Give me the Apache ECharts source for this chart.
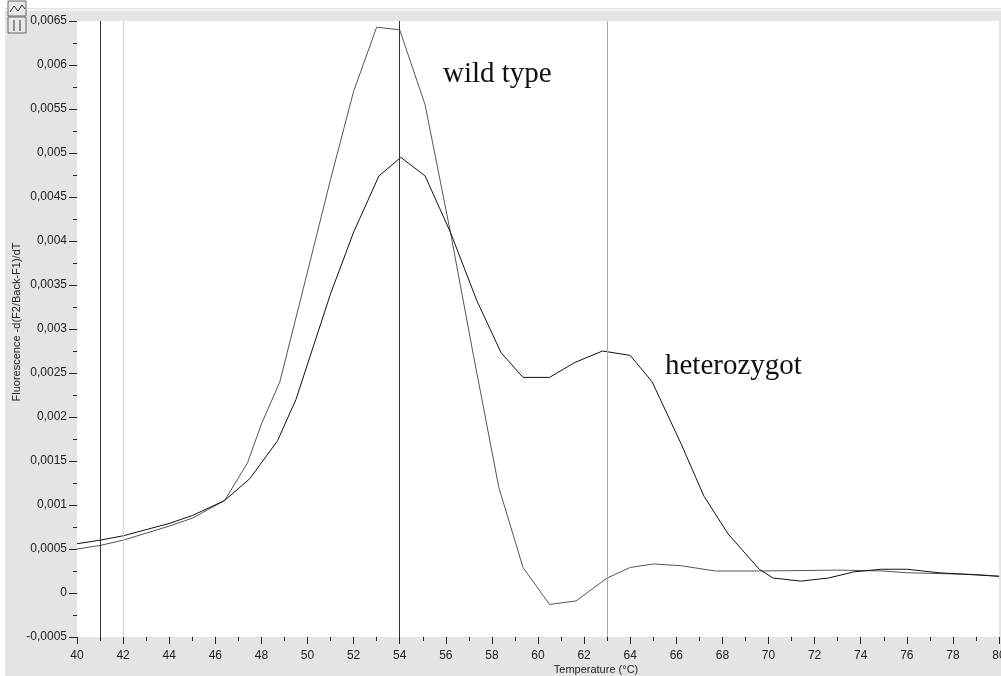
<!DOCTYPE html>
<html><head><meta charset="utf-8">
<script src="https://cdn.jsdelivr.net/npm/echarts@6/dist/echarts.min.js"></script>
<style>html,body{margin:0;padding:0;background:#fff}#c{width:1001px;height:676px}</style>
</head><body><div id="c"></div>
<script>
// Temperature (°C) / -d(F2/Back-F1)/dT
var wildTemps = [40, 41, 42, 43, 44, 45, 46.4, 47.4, 48.0, 48.8, 50, 51, 52, 53, 54, 55.1, 56.2, 57.2, 58.3, 59.35, 60.5, 61.65, 63, 64, 65, 66.2, 67.7, 69.6, 73, 75, 76, 79, 80];
var wildValues = [0.0005, 0.00054, 0.0006, 0.00068, 0.00076, 0.00085, 0.00105, 0.00148, 0.00192, 0.0024, 0.00365, 0.0047, 0.0057, 0.00643, 0.0064, 0.00555, 0.0041, 0.0027, 0.0012, 0.00029, -0.00013, -0.00009, 0.00017, 0.00029, 0.00033, 0.00031, 0.00025, 0.00025, 0.00026, 0.00025, 0.00023, 0.00021, 0.00019];
var hetTemps = [40, 41, 42, 43, 44, 45, 46.4, 47.5, 48.7, 49.5, 51, 52, 53.1, 54.05, 55.1, 56.2, 57.35, 58.4, 59.35, 60.5, 61.6, 62.8, 64.0, 64.95, 66.2, 67.2, 68.25, 69.6, 70.2, 71.4, 72.6, 73.7, 74.9, 76, 77.4, 80];
var hetValues = [0.00056, 0.0006, 0.00065, 0.00072, 0.00079, 0.00088, 0.00105, 0.0013, 0.00173, 0.0022, 0.0034, 0.0041, 0.00474, 0.00495, 0.00474, 0.0041, 0.00332, 0.00273, 0.00245, 0.00245, 0.00262, 0.00275, 0.0027, 0.0024, 0.0017, 0.0011, 0.00067, 0.00027, 0.00017, 0.000135, 0.00017, 0.00024, 0.00027, 0.00027, 0.00023, 0.00019];
var cursorTemps = [41, 42, 54, 63];
var cursorColors = ['#333', '#d4d4d4', '#333', '#aaa'];
var seriesNames = ['wild type', 'heterozygot'];
var xTitle = 'Temperature (°C)';
var yTitle = 'Fluorescence -d(F2/Back-F1)/dT';

function pairs(xs, ys) { return xs.map(function (x, i) { return [x, ys[i]]; }); }
function fmt(v) { return String(+v.toFixed(4)).replace('.', ','); }

var chart = echarts.init(document.getElementById('c'), null, {renderer: 'canvas'});
var font = '"Liberation Sans", Arial, sans-serif';
chart.setOption({
  animation: false,
  backgroundColor: '#fff',
  graphic: [
    {type: 'rect', z: -10, shape: {x: 5, y: 8, width: 996, height: 668}, style: {fill: '#e4e4e4'}},
    {type: 'rect', z: -9, shape: {x: 5, y: 9, width: 996, height: 2}, style: {fill: '#f2f2f2'}},
    {type: 'rect', shape: {x: 8, y: 1, width: 18, height: 15}, style: {fill: '#e8e8e8', stroke: '#666', lineWidth: 1}},
    {type: 'polyline', shape: {points: [[10, 12], [14, 6], [18, 11], [22, 5], [25, 9]]}, style: {stroke: '#333', lineWidth: 1, fill: null}},
    {type: 'rect', shape: {x: 8, y: 17, width: 18, height: 16}, style: {fill: '#e8e8e8', stroke: '#666', lineWidth: 1}},
    {type: 'line', shape: {x1: 14, y1: 20, x2: 14, y2: 31}, style: {stroke: '#333', lineWidth: 1}},
    {type: 'line', shape: {x1: 20, y1: 20, x2: 20, y2: 31}, style: {stroke: '#333', lineWidth: 1}},
    {type: 'text', left: 443, top: 60, style: {text: seriesNames[0], font: '29px "Liberation Serif", "Times New Roman", serif', fill: '#111'}},
    {type: 'text', left: 665, top: 352, style: {text: seriesNames[1], font: '29px "Liberation Serif", "Times New Roman", serif', fill: '#111'}},
    {type: 'text', x: 596, y: 670, style: {text: xTitle, font: '11px ' + font, fill: '#222', textAlign: 'center', textVerticalAlign: 'middle'}},
    {type: 'text', x: 17, y: 322, rotation: Math.PI / 2, style: {text: yTitle, font: '11px ' + font, fill: '#222', textAlign: 'center', textVerticalAlign: 'middle'}}
  ],
  grid: {left: 77, right: 2, top: 21, bottom: 39, show: true, backgroundColor: '#fff', borderWidth: 0, containLabel: false, outerBoundsMode: 'none'},
  xAxis: {
    type: 'value', min: 40, max: 80, interval: 2,
    axisLine: {show: false, onZero: false},
    axisTick: {show: true, length: 7, lineStyle: {color: '#222'}},
    minorTick: {show: true, splitNumber: 2, length: 4, lineStyle: {color: '#222'}},
    splitLine: {show: false},
    axisLabel: {margin: 13, color: '#222', fontSize: 12, fontFamily: font, hideOverlap: false, showMaxLabel: true, showMinLabel: true}
  },
  yAxis: {
    type: 'value', min: -0.0005, max: 0.0065, interval: 0.0005,
    axisLine: {show: false, onZero: false},
    axisTick: {show: true, length: 8, lineStyle: {color: '#222'}},
    minorTick: {show: true, splitNumber: 2, length: 4, lineStyle: {color: '#222'}},
    splitLine: {show: false},
    axisLabel: {margin: 10, color: '#222', fontSize: 12, fontFamily: font, formatter: fmt}
  },
  series: [
    {
      name: seriesNames[0], type: 'line', data: pairs(wildTemps, wildValues),
      showSymbol: false, smooth: false, lineStyle: {color: '#555', width: 1}, z: 3,
      markLine: {
        silent: true, symbol: ['none', 'none'], label: {show: false},
        data: cursorTemps.map(function (t, i) { return {xAxis: t, lineStyle: {color: cursorColors[i], width: 1, type: 'solid'}}; })
      }
    },
    {
      name: seriesNames[1], type: 'line', data: pairs(hetTemps, hetValues),
      showSymbol: false, smooth: false, lineStyle: {color: '#111', width: 1}, z: 4
    }
  ]
});
</script>
</body></html>
